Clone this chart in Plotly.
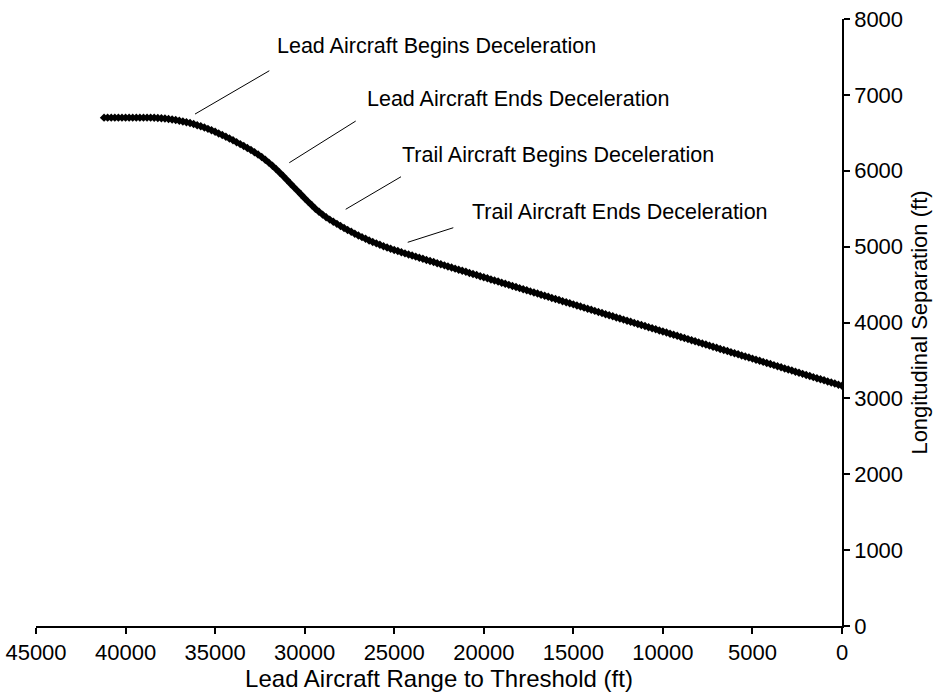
import plotly.graph_objects as go

# Lead aircraft range to threshold (ft)
range_ft = [
    41200, 41000, 40800, 40600, 40400, 40200, 40000, 39800, 39600, 39400,
    39200, 39000, 38800, 38600, 38400, 38200, 38000, 37800, 37600, 37400,
    37200, 37000, 36800, 36600, 36400, 36200, 36000, 35800, 35600, 35400,
    35200, 35000, 34800, 34600, 34400, 34200, 34000, 33800, 33600, 33400,
    33200, 33000, 32800, 32600, 32400, 32200, 32000, 31800, 31600, 31400,
    31200, 31000, 30800, 30600, 30400, 30200, 30000, 29800, 29600, 29400,
    29200, 29000, 28800, 28600, 28400, 28200, 28000, 27800, 27600, 27400,
    27200, 27000, 26800, 26600, 26400, 26200, 26000, 25800, 25600, 25400,
    25200, 25000, 24800, 24600, 24400, 24200, 24000, 23800, 23600, 23400,
    23200, 23000, 22800, 22600, 22400, 22200, 22000, 21800, 21600, 21400,
    21200, 21000, 20800, 20600, 20400, 20200, 20000, 19800, 19600, 19400,
    19200, 19000, 18800, 18600, 18400, 18200, 18000, 17800, 17600, 17400,
    17200, 17000, 16800, 16600, 16400, 16200, 16000, 15800, 15600, 15400,
    15200, 15000, 14800, 14600, 14400, 14200, 14000, 13800, 13600, 13400,
    13200, 13000, 12800, 12600, 12400, 12200, 12000, 11800, 11600, 11400,
    11200, 11000, 10800, 10600, 10400, 10200, 10000, 9800, 9600, 9400,
    9200, 9000, 8800, 8600, 8400, 8200, 8000, 7800, 7600, 7400,
    7200, 7000, 6800, 6600, 6400, 6200, 6000, 5800, 5600, 5400,
    5200, 5000, 4800, 4600, 4400, 4200, 4000, 3800, 3600, 3400,
    3200, 3000, 2800, 2600, 2400, 2200, 2000, 1800, 1600, 1400,
    1200, 1000, 800, 600, 400, 200, 0,
]

# Longitudinal separation (ft)
separation_ft = [
    6700, 6700, 6700, 6700, 6700, 6700, 6700, 6700, 6700, 6700,
    6700, 6700, 6700, 6700, 6698, 6696, 6692, 6688, 6682, 6676,
    6668, 6660, 6650, 6639, 6628, 6615, 6601, 6586, 6569, 6552,
    6533, 6513, 6492, 6470, 6448, 6425, 6401, 6376, 6351, 6326,
    6299, 6273, 6244, 6213, 6180, 6145, 6107, 6066, 6023, 5978,
    5931, 5882, 5833, 5784, 5735, 5686, 5638, 5590, 5544, 5500,
    5459, 5422, 5387, 5356, 5327, 5300, 5273, 5246, 5220, 5195,
    5171, 5148, 5125, 5103, 5082, 5062, 5043, 5024, 5006, 4989,
    4972, 4956, 4941, 4926, 4911, 4896, 4882, 4868, 4853, 4839,
    4825, 4811, 4796, 4782, 4768, 4753, 4739, 4725, 4710, 4696,
    4682, 4668, 4653, 4639, 4625, 4610, 4596, 4582, 4567, 4553,
    4539, 4525, 4510, 4496, 4482, 4467, 4453, 4439, 4424, 4410,
    4396, 4382, 4367, 4353, 4339, 4324, 4310, 4296, 4281, 4267,
    4253, 4239, 4224, 4210, 4196, 4181, 4167, 4153, 4138, 4124,
    4110, 4096, 4081, 4067, 4053, 4038, 4024, 4010, 3995, 3981,
    3967, 3953, 3938, 3924, 3910, 3895, 3881, 3867, 3852, 3838,
    3824, 3810, 3795, 3781, 3767, 3752, 3738, 3724, 3709, 3695,
    3681, 3667, 3652, 3638, 3624, 3609, 3595, 3581, 3566, 3552,
    3538, 3524, 3509, 3495, 3481, 3466, 3452, 3438, 3423, 3409,
    3395, 3381, 3366, 3352, 3338, 3323, 3309, 3295, 3280, 3266,
    3252, 3238, 3223, 3209, 3195, 3180, 3166,
]

event_labels = [
    "Lead Aircraft Begins Deceleration",
    "Lead Aircraft Ends Deceleration",
    "Trail Aircraft Begins Deceleration",
    "Trail Aircraft Ends Deceleration",
]

x_tick_vals = [45000, 40000, 35000, 30000, 25000, 20000, 15000, 10000, 5000, 0]
y_tick_vals = [0, 1000, 2000, 3000, 4000, 5000, 6000, 7000, 8000]

FONT = "Liberation Sans, Arial, Helvetica, sans-serif"

fig = go.Figure()
fig.add_trace(go.Scatter(
    x=range_ft, y=separation_ft, mode="lines+markers",
    line=dict(color="black", width=2),
    marker=dict(symbol="diamond", size=6.5, color="black"),
    showlegend=False, hoverinfo="skip",
))

# annotation text anchors (data coords) and leader lines
text_pos = [(31545, 7644), (26520, 6945), (24566, 6207), (20657, 5456)]
leader = [
    ((31974, 7318), (36123, 6747)),
    ((27150, 6655), (30858, 6106)),
    ((24621, 5921), (27709, 5492)),
    ((21701, 5249), (24247, 5057)),
]
for lbl, (tx, ty), ((x0, y0), (x1, y1)) in zip(event_labels, text_pos, leader):
    fig.add_annotation(x=tx, y=ty, text=lbl, showarrow=False,
                       xanchor="left", yanchor="middle", xshift=-2,
                       font=dict(family=FONT, size=21.5, color="black"))
    fig.add_shape(type="line", x0=x0, y0=y0, x1=x1, y1=y1,
                  line=dict(color="black", width=1))

fig.update_layout(
    width=936, height=696,
    margin=dict(l=36, r=94, t=19, b=70),
    paper_bgcolor="white", plot_bgcolor="white",
    font=dict(family=FONT, size=22, color="black"),
)
fig.update_xaxes(
    range=[45000, 0], tickvals=x_tick_vals, tickformat="d",
    showline=True, linecolor="black", linewidth=1.5,
    ticks="outside", ticklen=6, tickwidth=1.5, tickcolor="black",
    tickfont=dict(family=FONT, size=22, color="black"),
    showgrid=False, zeroline=False,
    title=dict(text="Lead Aircraft Range to Threshold (ft)", standoff=1,
               font=dict(family=FONT, size=24, color="black")),
    automargin=False,
)
fig.update_yaxes(
    range=[0, 8000], tickvals=y_tick_vals, tickformat="d", side="right",
    showline=True, linecolor="black", linewidth=1.5,
    ticks="outside", ticklen=6, tickwidth=1.5, tickcolor="black",
    tickfont=dict(family=FONT, size=22, color="black"),
    showgrid=False, zeroline=False,
    title=dict(text="Longitudinal Separation (ft)", standoff=9,
               font=dict(family=FONT, size=22, color="black")),
    automargin=False,
)

fig.write_html("out.html")
